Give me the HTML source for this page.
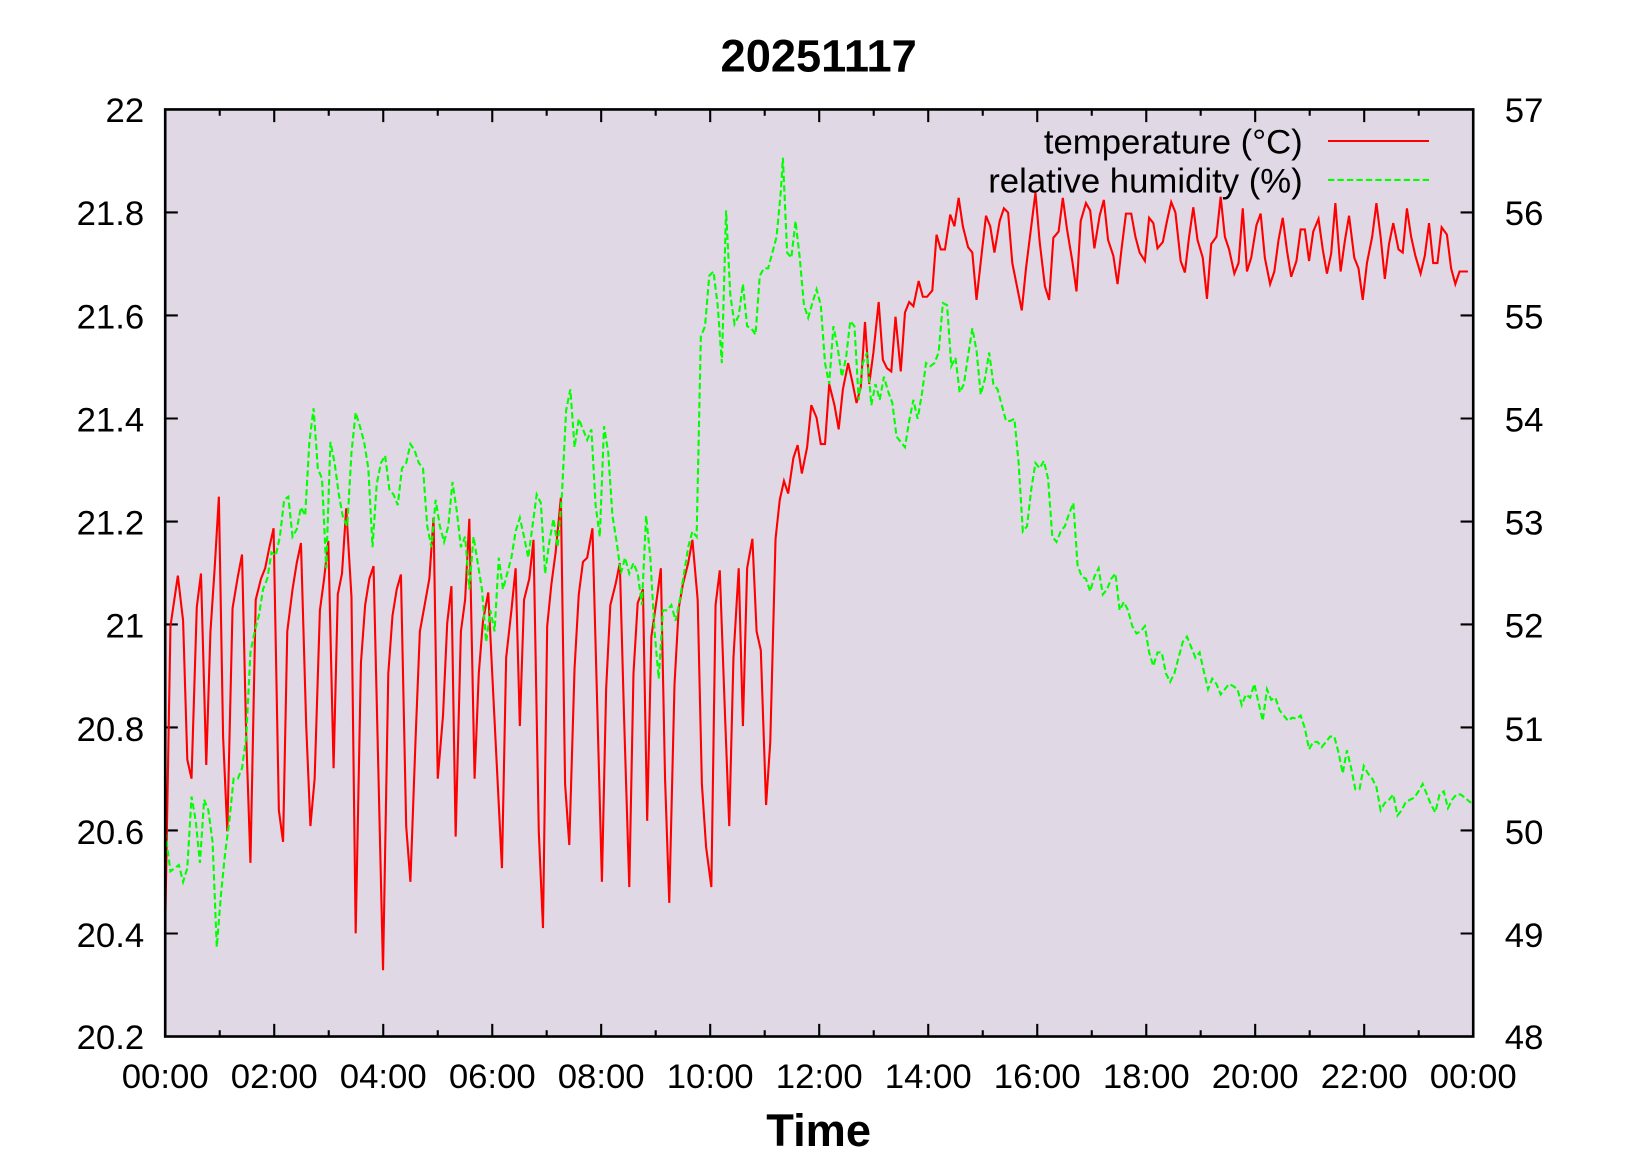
<!DOCTYPE html>
<html><head><meta charset="utf-8"><style>html,body{margin:0;padding:0;background:#fff}svg{display:block}</style></head><body>
<svg width="1650" height="1155" viewBox="0 0 1568 1097.6" preserveAspectRatio="none" xmlns="http://www.w3.org/2000/svg" font-family="Liberation Sans, sans-serif">
<rect x="157" y="104" width="1243" height="881" fill="#e0d9e5"/>
<text x="778" y="68" text-anchor="middle" font-size="43" font-weight="bold">20251117</text>
<g font-size="33" text-anchor="end">
<text x="137" y="116">22</text><text x="137" y="214">21.8</text><text x="137" y="312">21.6</text><text x="137" y="410">21.4</text><text x="137" y="508">21.2</text><text x="137" y="606">21</text><text x="137" y="704">20.8</text><text x="137" y="802">20.6</text><text x="137" y="900">20.4</text><text x="137" y="997">20.2</text>
</g>
<g font-size="33">
<text x="1430" y="116">57</text><text x="1430" y="214">56</text><text x="1430" y="312">55</text><text x="1430" y="410">54</text><text x="1430" y="508">53</text><text x="1430" y="606">52</text><text x="1430" y="704">51</text><text x="1430" y="802">50</text><text x="1430" y="900">49</text><text x="1430" y="997">48</text>
</g>
<g font-size="33" text-anchor="middle">
<text x="157" y="1034">00:00</text><text x="260.6" y="1034">02:00</text><text x="364.2" y="1034">04:00</text><text x="467.8" y="1034">06:00</text><text x="571.3" y="1034">08:00</text><text x="674.9" y="1034">10:00</text><text x="778.5" y="1034">12:00</text><text x="882.1" y="1034">14:00</text><text x="985.7" y="1034">16:00</text><text x="1089.3" y="1034">18:00</text><text x="1192.8" y="1034">20:00</text><text x="1296.4" y="1034">22:00</text><text x="1400" y="1034">00:00</text>
</g>
<text x="778" y="1089" text-anchor="middle" font-size="43" font-weight="bold">Time</text>
<g stroke="#000" stroke-width="2">
<path d="M157,201.9h12M157,299.8h12M157,397.7h12M157,495.6h12M157,593.4h12M157,691.3h12M157,789.2h12M157,887.1h12M1400,201.9h-12M1400,299.8h-12M1400,397.7h-12M1400,495.6h-12M1400,593.4h-12M1400,691.3h-12M1400,789.2h-12M1400,887.1h-12"/>
<path d="M260.6,985v-12M364.2,985v-12M467.8,985v-12M571.3,985v-12M674.9,985v-12M778.5,985v-12M882.1,985v-12M985.7,985v-12M1089.3,985v-12M1192.8,985v-12M1296.4,985v-12M260.6,104v12M364.2,104v12M467.8,104v12M571.3,104v12M674.9,104v12M778.5,104v12M882.1,104v12M985.7,104v12M1089.3,104v12M1192.8,104v12M1296.4,104v12"/>
<path d="M208.8,985v-6M312.4,985v-6M416,985v-6M519.5,985v-6M623.1,985v-6M726.7,985v-6M830.3,985v-6M933.9,985v-6M1037.5,985v-6M1141,985v-6M1244.6,985v-6M1348.2,985v-6M208.8,104v6M312.4,104v6M416,104v6M519.5,104v6M623.1,104v6M726.7,104v6M830.3,104v6M933.9,104v6M1037.5,104v6M1141,104v6M1244.6,104v6M1348.2,104v6"/>
</g>
<polyline fill="none" stroke="#ff0000" stroke-width="2" points="157,880 162,595 169,547 174,590 178,722 182,740 187,577 191,545 196,727 200,600 204,540 208,472 212,700 216,790 221,578 226,548 230,527 234,700 238,820 243,570 248,550 252,540 256,520 260,502 265,770 269,800 273,600 278,560 282,535 286,516 291,690 295,785 299,740 304,580 308,550 312,514 317,730 321,565 325,545 329,483 334,567 338,887 343,630 347,575 351,550 355,538 364,922 369,640 373,585 377,560 381,546 386,785 390,838 395,700 399,600 403,578 408,550 412,492 416,740 421,680 425,592 429,557 433,795 438,600 442,570 446,493 451,740 455,640 459,590 464,563 468,645 477,825 481,625 486,580 490,540 494,690 498,570 503,550 507,513 512,790 516,882 520,595 524,555 528,525 533,473 537,745 541,803 546,635 550,565 554,534 558,530 563,502 567,650 572,838 576,655 580,575 585,555 589,535 593,680 598,843 602,640 606,573 611,560 615,780 619,605 624,570 628,540 632,740 636,858 641,650 645,578 649,555 654,535 658,513 663,570 667,745 671,805 676,843 680,575 684,542 689,680 693,785 697,625 702,540 706,690 710,540 715,512 719,600 723,618 728,765 732,705 737,512 741,475 745,457 749,469 754,435 758,423 762,450 767,425 771,385 776,397 780,422 784,422 788,365 793,385 797,408 801,370 806,345 810,363 814,383 818,368 822,306 826,365 830,335 835,287 839,342 843,350 847,353 851,301 856,353 860,297 864,287 868,291 873,267 877,282 881,282 886,276 890,223 894,237 898,237 903,204 907,215 911,188 915,215 920,235 924,240 928,285 933,240 937,205 941,215 945,240 950,210 954,198 958,202 962,250 967,275 971,295 975,255 980,215 984,183 988,230 993,272 997,285 1001,226 1006,220 1010,188 1014,218 1019,248 1023,277 1027,210 1032,193 1036,200 1040,236 1045,205 1049,190 1053,228 1058,243 1062,270 1066,235 1070,203 1075,203 1079,225 1083,240 1088,248 1092,207 1096,212 1100,236 1105,230 1109,210 1113,192 1117,202 1122,248 1126,259 1130,225 1134,197 1138,228 1143,245 1147,284 1151,232 1156,225 1160,187 1164,225 1168,237 1173,260 1177,250 1181,198 1185,258 1189,245 1194,214 1198,203 1202,245 1207,270 1211,258 1215,228 1219,207 1223,238 1227,263 1232,248 1236,218 1240,218 1244,248 1248,220 1253,208 1257,237 1261,260 1265,241 1269,193 1274,258 1278,229 1282,205 1287,245 1291,255 1295,285 1299,250 1304,225 1308,193 1312,225 1316,265 1320,232 1324,212 1329,237 1333,240 1337,198 1341,225 1345,243 1350,260 1354,243 1358,212 1362,250 1366,250 1370,216 1375,223 1379,255 1383,270 1387,258 1395,258"/>
<polyline fill="none" stroke="#00ff00" stroke-width="2" stroke-dasharray="6,3" points="157,790 162,828 166,825 170,822 174,838 178,825 182,757 186,780 190,820 194,760 198,770 202,800 206,900 210,850 214,810 218,780 222,740 226,740 230,730 234,700 238,620 242,600 246,585 250,560 254,550 258,525 262,528 266,510 270,475 274,472 278,510 282,503 286,482 290,490 294,420 298,388 302,445 306,455 310,540 314,420 318,440 322,470 326,492 330,500 334,430 338,392 342,405 346,420 350,445 354,520 358,460 362,440 366,433 370,465 374,470 378,480 382,445 386,440 390,422 394,428 398,440 402,445 406,500 410,520 414,475 418,500 422,515 426,500 430,458 434,485 438,520 442,510 446,560 450,510 454,535 458,560 462,610 466,580 470,600 474,530 478,560 482,545 486,530 490,505 494,492 498,510 502,530 506,500 510,470 514,478 518,545 522,515 526,493 530,520 534,470 538,390 542,370 546,425 550,398 554,408 558,418 562,408 566,480 570,510 574,405 578,430 582,490 586,515 590,545 594,530 598,545 602,535 606,545 610,575 614,490 618,530 622,600 626,645 630,580 634,580 638,575 642,590 646,570 650,545 654,520 658,505 662,510 666,320 670,310 674,262 678,258 682,290 686,345 690,200 694,280 698,308 702,300 706,270 710,310 714,312 718,318 722,262 726,255 730,255 734,240 738,225 742,182 744,150 748,240 752,245 756,210 760,245 764,290 768,302 772,288 776,275 780,290 784,345 788,365 792,310 796,330 800,358 804,340 808,305 812,310 816,380 820,345 824,335 828,385 832,365 836,380 840,358 844,372 848,383 852,415 856,420 860,425 864,400 868,380 872,398 876,375 880,345 884,348 888,345 892,335 896,288 900,290 904,348 908,340 912,373 916,365 920,338 924,312 928,333 932,375 936,360 940,335 944,365 948,370 952,385 956,400 960,400 964,398 968,440 972,505 976,500 980,465 984,440 988,445 992,438 996,455 1000,510 1004,515 1008,505 1012,500 1016,488 1020,478 1024,537 1028,548 1032,550 1036,562 1040,548 1044,540 1048,565 1052,560 1056,550 1060,545 1064,580 1068,572 1072,580 1076,595 1080,602 1084,600 1088,595 1092,620 1096,633 1100,620 1104,620 1108,640 1112,648 1116,640 1120,625 1124,610 1128,605 1132,615 1136,625 1140,620 1144,638 1148,655 1152,645 1156,650 1160,660 1164,655 1168,650 1172,652 1176,655 1180,670 1184,660 1188,663 1192,650 1196,668 1200,685 1204,655 1208,665 1212,663 1216,675 1220,680 1224,685 1228,682 1232,683 1236,680 1240,692 1244,712 1248,705 1252,705 1256,710 1260,705 1264,700 1268,700 1272,715 1276,735 1280,713 1284,730 1288,750 1292,750 1296,728 1300,735 1304,740 1308,748 1312,770 1316,763 1320,760 1324,755 1328,775 1332,770 1336,762 1340,760 1344,758 1348,752 1352,745 1356,755 1360,765 1364,772 1368,755 1372,752 1376,768 1380,760 1384,755 1388,755 1392,758 1398,763"/>
<g font-size="33" text-anchor="end">
<text x="1238" y="146">temperature (°C)</text>
<text x="1238" y="183">relative humidity (%)</text>
</g>
<line x1="1262" y1="134" x2="1358" y2="134" stroke="#ff0000" stroke-width="2"/>
<line x1="1262" y1="171" x2="1358" y2="171" stroke="#00ff00" stroke-width="2" stroke-dasharray="6,3"/>
<rect x="157" y="104" width="1243" height="881" fill="none" stroke="#000" stroke-width="2.5"/>
</svg>
</body></html>
